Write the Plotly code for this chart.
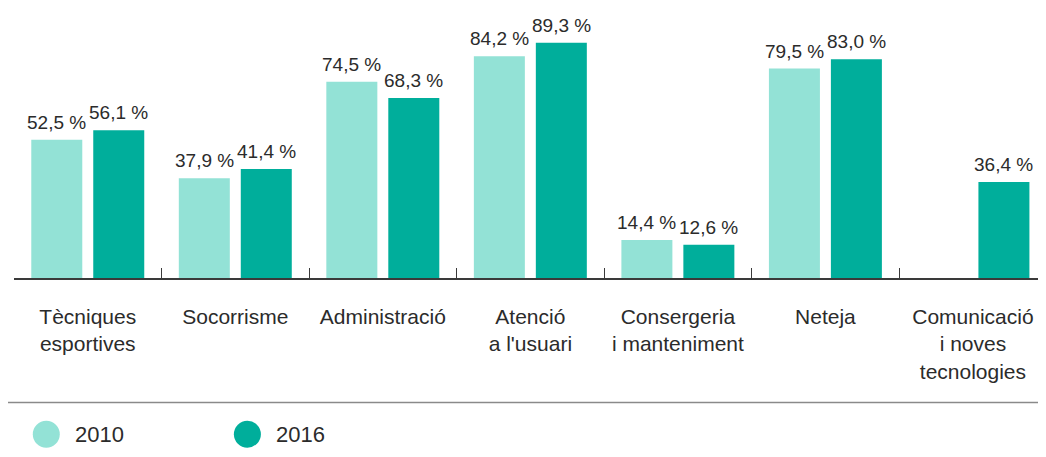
import plotly.graph_objects as go

categories = ["Tècniques<br>esportives", "Socorrisme", "Administració", "Atenció<br>a l'usuari",
              "Consergeria<br>i manteniment", "Neteja", "Comunicació<br>i noves<br>tecnologies"]
values_2010 = [52.5, 37.9, 74.5, 84.2, 14.4, 79.5, None]
values_2016 = [56.1, 41.4, 68.3, 89.3, 12.6, 83.0, 36.4]
series_names = ["2010", "2016"]
colors = ["#93E2D6", "#00AE9B"]
TEXT = "#2b2b2b"
FONT = "Liberation Sans, Arial, Helvetica, sans-serif"


def fmt(v):
    return f"{v:.1f}".replace(".", ",") + " %"


# page body has an 8px margin on every side; keep the figure inside the viewport (no scrollbars)
OFF = 8
W, H = 1046 - 2 * OFF, 457 - 2 * OFF
L, R, T, B = 13.5 - OFF, 0, 0, H - (278 - OFF)
pw, ph = W - L - R, H - T - B
SLOT_PX = 147.6
BARGAP = 1 - 124 / SLOT_PX
half_slot = (1 - BARGAP) * SLOT_PX / 4

fig = go.Figure()
annotations = []
for k, (name, vals, col) in enumerate(zip(series_names, [values_2010, values_2016], colors)):
    fig.add_trace(go.Bar(
        x=categories, y=vals, name=name, marker=dict(color=col, line=dict(width=0)),
        showlegend=False, hoverinfo="skip",
    ))
    for cat, v in zip(categories, vals):
        if v is None:
            continue
        annotations.append(dict(
            x=cat, y=v, xref="x", yref="y", text=fmt(v), showarrow=False,
            xanchor="center", yanchor="bottom", xshift=(-1 if k == 0 else 1) * half_slot, yshift=5,
            font=dict(size=19, color=TEXT, family=FONT),
        ))


def px_to_paper(xp, yp):
    # xp, yp in reference-image pixels
    return (xp - OFF - L) / pw, (H - B - (yp - OFF)) / ph


shapes = []
# separator line
x0, y0 = px_to_paper(6, 402.5)
x1, _ = px_to_paper(1060, 402.5)
shapes.append(dict(type="line", xref="paper", yref="paper", x0=x0, x1=x1, y0=y0, y1=y0,
                   line=dict(color="#8a8a8a", width=1.5)))
# legend
legend_x = [45.8, 247]
for name, col, cx in zip(series_names, colors, legend_x):
    cy = 434.2
    px, py = px_to_paper(cx, cy)
    shapes.append(dict(type="circle", xref="paper", yref="paper", xsizemode="pixel", ysizemode="pixel",
                       xanchor=px, yanchor=py, x0=-13.5, x1=13.5, y0=-13.5, y1=13.5,
                       fillcolor=col, line=dict(width=0)))
    tx, ty = px_to_paper(cx + 26.5, cy)
    annotations.append(dict(xref="paper", yref="paper", x=tx, y=ty, xanchor="left", yanchor="middle",
                            text=name, showarrow=False, font=dict(size=22, color=TEXT, family=FONT)))

fig.update_layout(
    width=W, height=H, margin=dict(l=L, r=R, t=T, b=B),
    paper_bgcolor="white", plot_bgcolor="white",
    barmode="group", bargap=BARGAP, bargroupgap=0.177,
    font=dict(family=FONT, color=TEXT),
    xaxis=dict(range=[-0.5, -0.5 + pw / SLOT_PX], showline=True, linecolor="#3a3a3a", linewidth=1.5,
               ticks="inside", ticklen=10, tickwidth=1, tickcolor="#3a3a3a", tickson="boundaries",
               showgrid=False, zeroline=False, automargin=False, fixedrange=True,
               tickfont=dict(size=21, color=TEXT, family=FONT), ticklabelstandoff=19),
    yaxis=dict(range=[0, ph / 2.635], visible=False, showgrid=False, zeroline=False, fixedrange=True),
    shapes=shapes, annotations=annotations,
)

fig.write_html("out.html")
